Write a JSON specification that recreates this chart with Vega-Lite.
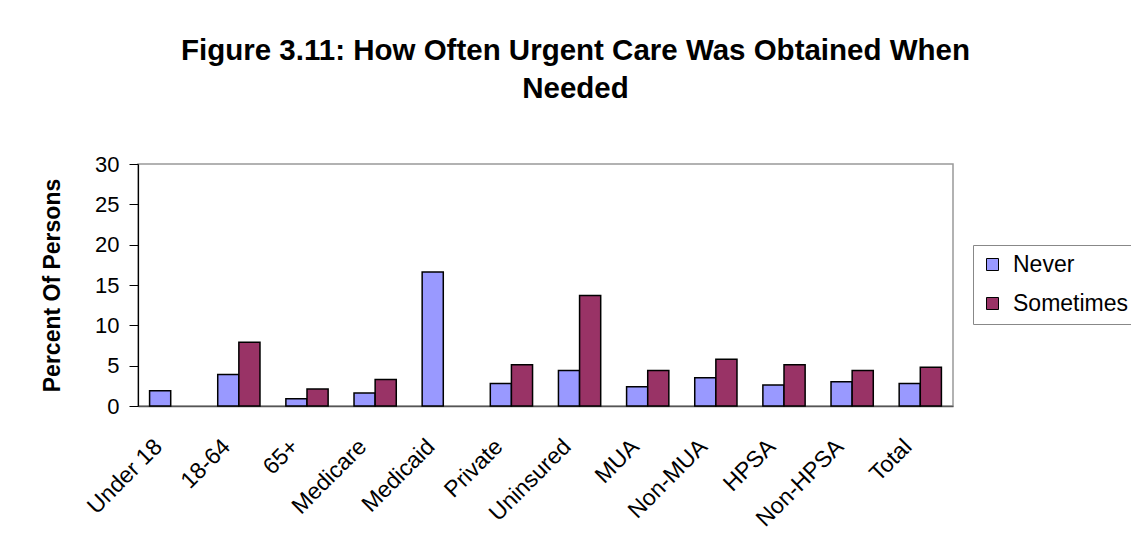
{
  "$schema": "https://vega.github.io/schema/vega-lite/v6.json",
  "width": 815,
  "height": 242,
  "autosize": "none",
  "padding": {"left": 138, "top": 164, "right": 178, "bottom": 148},
  "background": "white",
  "title": {
    "text": ["Figure 3.11: How Often Urgent Care Was Obtained When", "Needed"],
    "font": "Liberation Sans",
    "fontSize": 29.5,
    "fontWeight": "bold",
    "color": "black",
    "anchor": "middle",
    "dx": 30,
    "offset": 49,
    "lineHeight": 38
  },
  "data": {
    "values": [
      {"group": "Under 18", "series": "Never", "value": 1.9},
      {"group": "18-64", "series": "Never", "value": 3.9},
      {"group": "18-64", "series": "Sometimes", "value": 7.9},
      {"group": "65+", "series": "Never", "value": 0.9},
      {"group": "65+", "series": "Sometimes", "value": 2.1},
      {"group": "Medicare", "series": "Never", "value": 1.6},
      {"group": "Medicare", "series": "Sometimes", "value": 3.3},
      {"group": "Medicaid", "series": "Never", "value": 16.6},
      {"group": "Private", "series": "Never", "value": 2.8},
      {"group": "Private", "series": "Sometimes", "value": 5.1},
      {"group": "Uninsured", "series": "Never", "value": 4.4},
      {"group": "Uninsured", "series": "Sometimes", "value": 13.7},
      {"group": "MUA", "series": "Never", "value": 2.4},
      {"group": "MUA", "series": "Sometimes", "value": 4.4},
      {"group": "Non-MUA", "series": "Never", "value": 3.5},
      {"group": "Non-MUA", "series": "Sometimes", "value": 5.8},
      {"group": "HPSA", "series": "Never", "value": 2.6},
      {"group": "HPSA", "series": "Sometimes", "value": 5.1},
      {"group": "Non-HPSA", "series": "Never", "value": 3.0},
      {"group": "Non-HPSA", "series": "Sometimes", "value": 4.4},
      {"group": "Total", "series": "Never", "value": 2.8},
      {"group": "Total", "series": "Sometimes", "value": 4.8}
    ]
  },
  "mark": {"type": "bar", "stroke": "black", "strokeWidth": 1.5},
  "encoding": {
    "x": {
      "field": "group",
      "type": "nominal",
      "sort": ["Under 18", "18-64", "65+", "Medicare", "Medicaid", "Private", "Uninsured", "MUA", "Non-MUA", "HPSA", "Non-HPSA", "Total"],
      "scale": {"paddingInner": 0.38, "paddingOuter": 0.17},
      "axis": {
        "title": null,
        "labelAngle": -45,
        "labelFont": "Liberation Sans",
        "labelFontSize": 23,
        "labelColor": "black",
        "labelPadding": 29,
        "labelOffset": -20,
        "ticks": false,
        "domainColor": "#555555",
        "domainWidth": 1.5
      }
    },
    "xOffset": {"field": "series", "type": "nominal", "sort": ["Never", "Sometimes"]},
    "y": {
      "field": "value",
      "type": "quantitative",
      "scale": {"domain": [0, 30], "nice": false},
      "axis": {
        "title": "Percent Of Persons",
        "titleFont": "Liberation Sans",
        "titleFontSize": 23,
        "titleFontWeight": "bold",
        "titleColor": "black",
        "titlePadding": 30,
        "values": [0, 5, 10, 15, 20, 25, 30],
        "labelFont": "Liberation Sans",
        "labelFontSize": 22,
        "labelColor": "black",
        "labelPadding": 10,
        "tickSize": 9,
        "tickColor": "black",
        "domainColor": "black",
        "domainWidth": 1.2,
        "grid": false
      }
    },
    "color": {
      "field": "series",
      "type": "nominal",
      "scale": {"domain": ["Never", "Sometimes"], "range": ["#9999FF", "#993366"]},
      "legend": {
        "title": null,
        "orient": "none",
        "legendX": 835,
        "legendY": 81,
        "symbolType": "square",
        "symbolSize": 144,
        "symbolStrokeColor": "black",
        "symbolStrokeWidth": 1,
        "labelFont": "Liberation Sans",
        "labelFontSize": 23,
        "labelColor": "black",
        "labelOffset": 9,
        "rowPadding": 15,
        "padding": 8,
        "strokeColor": "#888888",
        "fillColor": "white"
      }
    }
  },
  "config": {
    "view": {"stroke": "#999999", "strokeWidth": 1.5}
  }
}
